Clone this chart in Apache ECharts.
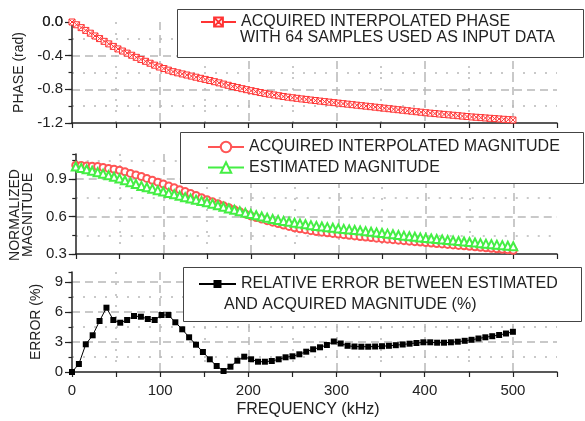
<!DOCTYPE html>
<html>
<head>
<meta charset="utf-8">
<title>Phase, magnitude and error</title>
<script src="https://cdn.jsdelivr.net/npm/echarts@6/dist/echarts.min.js"></script>
<style>html,body{margin:0;padding:0;background:#fff;}</style>
</head>
<body>
<div id="main" style="width:585px;height:421px;"></div>
<script>
// sample spacing of each curve (kHz)
var phaseStep = 500 / 96;
var magStep = 6.25;
var errStep = 7.8125;

// acquired interpolated phase (rad)
var phase = [
    0, -0.033, -0.067, -0.1, -0.133, -0.166, -0.197, -0.23, -0.26, -0.29,
    -0.32, -0.345, -0.37, -0.395, -0.42, -0.445, -0.467, -0.49, -0.513, -0.535,
    -0.553, -0.572, -0.59, -0.604, -0.617, -0.63, -0.643, -0.656, -0.669, -0.682,
    -0.695, -0.709, -0.723, -0.738, -0.752, -0.766, -0.779, -0.792, -0.804, -0.816,
    -0.827, -0.838, -0.848, -0.858, -0.867, -0.876, -0.885, -0.893, -0.9, -0.907,
    -0.914, -0.92, -0.927, -0.933, -0.94, -0.946, -0.952, -0.958, -0.964, -0.97,
    -0.976, -0.982, -0.988, -0.994, -1.0, -1.006, -1.012, -1.018, -1.024, -1.03,
    -1.036, -1.042, -1.048, -1.054, -1.06, -1.066, -1.072, -1.078, -1.083, -1.088,
    -1.093, -1.098, -1.103, -1.108, -1.113, -1.118, -1.123, -1.128, -1.132, -1.136,
    -1.14, -1.144, -1.148, -1.152, -1.156, -1.16, -1.164
];

// normalized magnitude
var magAcquired = [
    1.01, 1.008, 1.005, 1.003, 1.0, 0.993, 0.985, 0.978, 0.97, 0.958,
    0.945, 0.933, 0.92, 0.905, 0.89, 0.875, 0.86, 0.845, 0.83, 0.815,
    0.8, 0.784, 0.768, 0.751, 0.735, 0.719, 0.703, 0.686, 0.67, 0.654,
    0.638, 0.621, 0.605, 0.592, 0.58, 0.567, 0.555, 0.544, 0.532, 0.521,
    0.51, 0.502, 0.495, 0.487, 0.48, 0.475, 0.47, 0.465, 0.46, 0.455,
    0.45, 0.445, 0.44, 0.436, 0.432, 0.427, 0.423, 0.419, 0.415, 0.411,
    0.407, 0.403, 0.399, 0.396, 0.392, 0.388, 0.384, 0.381, 0.377, 0.373,
    0.369, 0.366, 0.362, 0.358, 0.354, 0.35, 0.346, 0.342, 0.338, 0.334,
    0.33
];
var magEstimated = [
    1.0, 0.989, 0.978, 0.966, 0.955, 0.943, 0.93, 0.918, 0.905, 0.89,
    0.875, 0.86, 0.845, 0.834, 0.823, 0.811, 0.8, 0.789, 0.778, 0.766,
    0.755, 0.745, 0.735, 0.725, 0.715, 0.703, 0.69, 0.678, 0.665, 0.654,
    0.643, 0.631, 0.62, 0.61, 0.6, 0.59, 0.58, 0.573, 0.565, 0.558,
    0.55, 0.544, 0.538, 0.531, 0.525, 0.52, 0.515, 0.51, 0.505, 0.501,
    0.497, 0.492, 0.488, 0.483, 0.478, 0.473, 0.468, 0.463, 0.458, 0.452,
    0.447, 0.442, 0.438, 0.433, 0.428, 0.424, 0.42, 0.416, 0.412, 0.408,
    0.404, 0.4, 0.396, 0.392, 0.387, 0.383, 0.379, 0.375, 0.371, 0.366,
    0.362
];

// relative error (%)
var relError = [
    0, 0.8, 2.77, 3.67, 5.1, 6.43, 5.2, 4.93, 5.2, 5.6,
    5.53, 5.3, 5.2, 5.7, 5.7, 4.97, 4.27, 3.47, 2.73, 2.0,
    1.27, 0.6, 0.1, 0.53, 1.13, 1.53, 1.27, 1.03, 1.03, 1.1,
    1.27, 1.47, 1.57, 1.77, 2.03, 2.27, 2.47, 2.7, 3.05, 2.85,
    2.62, 2.55, 2.53, 2.53, 2.55, 2.58, 2.62, 2.68, 2.75, 2.83,
    2.9, 2.97, 2.97, 2.93, 2.93, 2.97, 3.03, 3.12, 3.22, 3.35,
    3.47, 3.58, 3.7, 3.85, 4.02
];

var freqLabels = [0, 100, 200, 300, 400, 500];

var phaseName = ['ACQUIRED INTERPOLATED PHASE', 'WITH 64 SAMPLES USED AS INPUT DATA'];
var acqName = 'ACQUIRED INTERPOLATED MAGNITUDE';
var estName = 'ESTIMATED MAGNITUDE';
var errName = ['RELATIVE ERROR BETWEEN ESTIMATED', 'AND ACQUIRED MAGNITUDE (%)'];

var font = 'Liberation Sans, Arial, sans-serif';
var ink = '#222';
var gridColor = '#b8b8b8';
var dashed = [8, 5];
var dotted = [2, 9];

function pairs(values, step) {
    return values.map(function (v, i) { return [i * step, v]; });
}

// split line colour per tick index, so major and minor lines can share one axis
function lineColors(count, on) {
    var out = [];
    for (var i = 0; i < count; i++) out.push(on.indexOf(i) >= 0 ? gridColor : 'transparent');
    return out;
}

function mainX(grid, labels) {
    var ax = {
        type: 'value', gridIndex: grid, min: 0, max: 550, interval: 50, position: 'bottom',
        axisLine: { onZero: false, lineStyle: { color: ink, width: 1.5 } },
        axisTick: { length: 5, lineStyle: { color: ink, width: 1.2 } },
        axisLabel: {
            show: labels, margin: 11, fontFamily: font, fontSize: 15, color: ink,
            formatter: function (v) { return freqLabels.indexOf(v) >= 0 ? String(v) : ''; }
        },
        splitLine: { show: true, lineStyle: { type: dashed, width: 1.5, color: lineColors(12, [2, 4, 6, 8, 10]) } }
    };
    if (labels) {
        ax.name = 'FREQUENCY (kHz)';
        ax.nameLocation = 'middle';
        ax.nameGap = 30;
        ax.nameTextStyle = { fontFamily: font, fontSize: 16, color: ink, padding: [0, 13, 0, 0] };
    }
    return ax;
}

function minorX(grid) {
    return {
        type: 'value', gridIndex: grid, min: 0, max: 550, interval: 50, position: 'bottom',
        axisLine: { show: false, onZero: false }, axisTick: { show: false }, axisLabel: { show: false },
        splitLine: { show: true, lineStyle: { type: dotted, width: 1.5, color: lineColors(12, [1, 3, 5, 7, 9]) } }
    };
}

function mainY(grid, min, max, step, digits, count, on, topLabel, name, gap, nameStyle) {
    return {
        type: 'value', gridIndex: grid, min: min, max: max, interval: step, position: 'left',
        name: name, nameLocation: 'middle', nameGap: gap,
        nameTextStyle: Object.assign({ fontFamily: font, fontSize: 14, color: ink }, nameStyle || {}),
        axisLine: { onZero: false, lineStyle: { color: ink, width: 1.5 } },
        axisTick: { length: 7, lineStyle: { color: ink, width: 1.2 } },
        axisLabel: {
            margin: 9, fontFamily: font, fontSize: 15, color: ink, showMaxLabel: topLabel,
            formatter: function (v) { return v.toFixed(digits); }
        },
        splitLine: { show: true, lineStyle: { type: dashed, width: 1.5, color: lineColors(count, on) } }
    };
}

function minorY(grid, min, max, step, count) {
    return {
        type: 'value', gridIndex: grid, min: min, max: max, interval: step, position: 'left',
        axisLine: { show: false, onZero: false }, axisLabel: { show: false },
        axisTick: { length: 3.5, lineStyle: { color: ink, width: 1.2 } },
        splitLine: { show: true, lineStyle: { type: dotted, width: 1.5, color: lineColors(count, [1, 3, 5]) } }
    };
}

var legendText = { fontFamily: font, fontSize: 16, color: ink };
var boxStyle = { fill: '#fff', stroke: '#444', lineWidth: 1 };

var myChart = echarts.init(document.getElementById('main'));

myChart.setOption({
    animation: false,
    backgroundColor: '#fff',
    grid: [
        { left: 72, top: 22, width: 485, height: 101 },
        { left: 72, top: 154, width: 485, height: 100 },
        { left: 72, top: 272, width: 485, height: 100 }
    ],
    xAxis: [mainX(0, false), mainX(1, false), mainX(2, true), minorX(0), minorX(1), minorX(2)],
    yAxis: [
        mainY(0, -1.2, 0, 0.4, 1, 4, [1, 2], true, 'PHASE (rad)', 43),
        mainY(1, 0.3, 1.1, 0.3, 1, 4, [1, 2], false, 'NORMALIZED\nMAGNITUDE', 33, { lineHeight: 13, padding: [0, 22, 0, 0] }),
        mainY(2, 0, 10, 3, 0, 5, [1, 2, 3], false, 'ERROR (%)', 29),
        minorY(0, -1.2, 0, 0.2, 7),
        minorY(1, 0.3, 1.1, 0.15, 7),
        minorY(2, 0, 10, 1.5, 8)
    ],
    legend: [
        {
            left: 200, top: 14, padding: 0, itemWidth: 35, itemHeight: 11, selectedMode: false, z: 10,
            data: [phaseName[0]], textStyle: legendText
        },
        {
            left: 207, top: 139, padding: 0, orient: 'vertical', itemWidth: 36, itemHeight: 13, itemGap: 4.5,
            selectedMode: false, z: 10, data: [acqName, estName], textStyle: legendText
        },
        {
            left: 198, top: 276, padding: 0, itemWidth: 37, itemHeight: 10, selectedMode: false, z: 10,
            data: [errName[0]], textStyle: legendText
        }
    ],
    graphic: [
        { id: 'box1', type: 'rect', z: 3, shape: { x: 177.5, y: 9.5, width: 406, height: 48 }, style: boxStyle },
        { id: 'box2', type: 'rect', z: 3, shape: { x: 180.5, y: 132.5, width: 403, height: 51 }, style: boxStyle },
        { id: 'box3', type: 'rect', z: 3, shape: { x: 183.5, y: 267.5, width: 398, height: 54 }, style: boxStyle },
        {
            id: 'phaseLine2', type: 'text', z: 11, x: 240, y: 38,
            style: { text: phaseName[1], fontFamily: font, fontSize: 16, fill: ink, verticalAlign: 'middle' }
        },
        {
            id: 'errLine2', type: 'text', z: 11, x: 224, y: 305,
            style: { text: errName[1], fontFamily: font, fontSize: 16, fill: ink, verticalAlign: 'middle' }
        }
    ],
    series: [
        {
            name: phaseName[0], type: 'line', xAxisIndex: 0, yAxisIndex: 0,
            data: pairs(phase, phaseStep),
            symbol: 'path://M0,0 L10,0 L10,10 L0,10 Z M0,0 L10,10 M10,0 L0,10', symbolSize: 6,
            itemStyle: { color: '#fff', borderColor: '#ff3333', borderWidth: 1 },
            lineStyle: { color: '#ff3333', width: 1 }
        },
        {
            name: acqName, type: 'line', xAxisIndex: 1, yAxisIndex: 1,
            data: pairs(magAcquired, magStep),
            symbol: 'emptyCircle', symbolSize: 7,
            itemStyle: { color: '#ff5555', borderWidth: 1 },
            lineStyle: { color: '#ff5555', width: 1 }
        },
        {
            name: estName, type: 'line', xAxisIndex: 1, yAxisIndex: 1,
            data: pairs(magEstimated, magStep),
            symbol: 'emptyTriangle', symbolSize: 8,
            itemStyle: { color: '#44ee44', borderWidth: 1 },
            lineStyle: { color: '#44ee44', width: 1 }
        },
        {
            name: errName[0], type: 'line', xAxisIndex: 2, yAxisIndex: 2,
            data: pairs(relError, errStep),
            symbol: 'rect', symbolSize: 6,
            itemStyle: { color: '#000' },
            lineStyle: { color: '#000', width: 1 }
        }
    ]
});

// the top phase label (0.0) is hidden by the chart here, so place it at the axis' own top position
var phaseTop = myChart.convertToPixel({ gridIndex: 0 }, [0, 0]);
myChart.setOption({
    graphic: {
        elements: [{
            id: 'phaseTopLabel', type: 'text', z: 11, x: phaseTop[0] - 9, y: phaseTop[1],
            style: { text: (0).toFixed(1), fontFamily: font, fontSize: 15, fill: ink, align: 'right', verticalAlign: 'middle' }
        }]
    }
});
</script>
</body>
</html>
